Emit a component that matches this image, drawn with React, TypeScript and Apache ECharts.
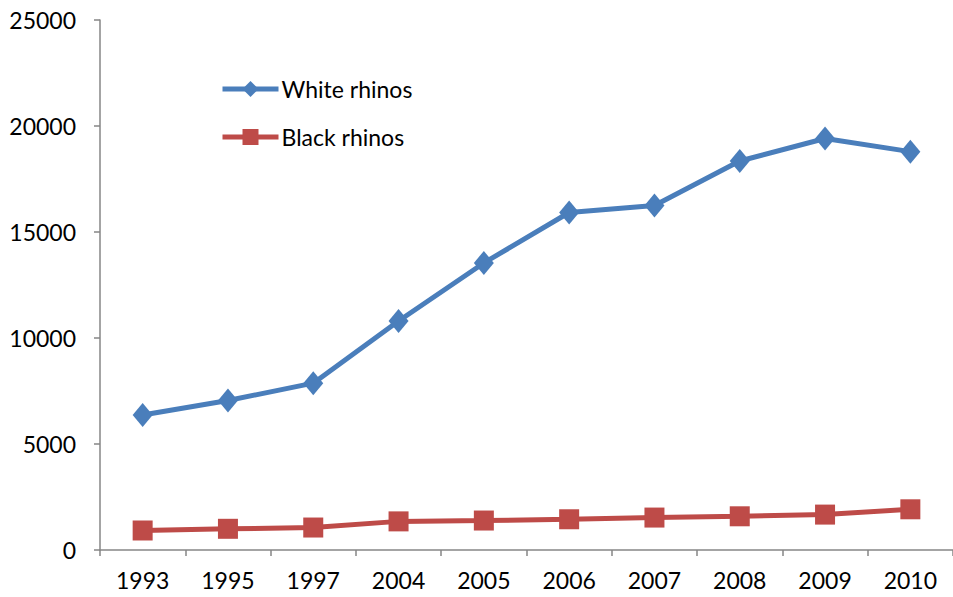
import React, { useEffect, useRef } from "react";
import * as echarts from "echarts";

const years = ["1993", "1995", "1997", "2004", "2005", "2006", "2007", "2008", "2009", "2010"];
const whiteRhinos = [6370, 7050, 7870, 10800, 13540, 15920, 16250, 18350, 19410, 18790];
const blackRhinos = [920, 1000, 1060, 1350, 1390, 1450, 1530, 1590, 1670, 1920];
const yTicks = { min: 0, max: 25000, interval: 5000 };

const FONT = "Lato";
const BLUE = "#4A7EBB";
const RED = "#BE4B48";

export default function App() {
  const ref = useRef<HTMLDivElement>(null);
  useEffect(() => {
    const chart = echarts.init(ref.current!, null, { renderer: "svg" });
    chart.setOption({
      animation: false,
      backgroundColor: "#ffffff",
      grid: { left: 100, right: -6, top: 20, bottom: 47, containLabel: false },
      legend: {
        orient: "vertical",
        left: 215,
        top: 72,
        itemWidth: 56,
        itemHeight: 20,
        itemGap: 24,
        textStyle: { fontFamily: FONT, fontSize: 23, color: "#000", lineHeight: 24, padding: [0, 0, 0, -2] },
        lineStyle: { width: 5 },
        data: ["White rhinos", "Black rhinos"],
      },
      xAxis: {
        type: "category",
        data: years,
        boundaryGap: true,
        axisLine: { lineStyle: { color: "#868686", width: 1.5 } },
        axisTick: { show: true, length: 6, lineStyle: { color: "#868686", width: 1.5 } },
        axisLabel: { fontFamily: FONT, fontSize: 23, color: "#000", margin: 18, interval: 0 },
        splitLine: { show: false },
      },
      yAxis: {
        type: "value",
        min: yTicks.min,
        max: yTicks.max,
        interval: yTicks.interval,
        axisLine: { show: true, lineStyle: { color: "#868686", width: 1.5 } },
        axisTick: { show: true, length: 6, lineStyle: { color: "#868686", width: 1.5 } },
        axisLabel: {
          fontFamily: FONT,
          fontSize: 23,
          color: "#000",
          margin: 24,
          formatter: (v: number) => String(v),
        },
        splitLine: { show: false },
      },
      series: [
        {
          name: "White rhinos",
          type: "line",
          data: whiteRhinos,
          symbol: "diamond",
          symbolSize: [20, 24],
          color: BLUE,
          lineStyle: { width: 5, color: BLUE },
          itemStyle: { color: BLUE },
        },
        {
          name: "Black rhinos",
          type: "line",
          data: blackRhinos,
          symbol: "rect",
          symbolSize: 20,
          color: RED,
          lineStyle: { width: 5, color: RED },
          itemStyle: { color: RED },
        },
      ],
    });
    return () => chart.dispose();
  }, []);
  return (
    <div
      ref={ref}
      style={{ position: "absolute", left: 0, top: 0, width: 953, height: 597 }}
    />
  );
}
